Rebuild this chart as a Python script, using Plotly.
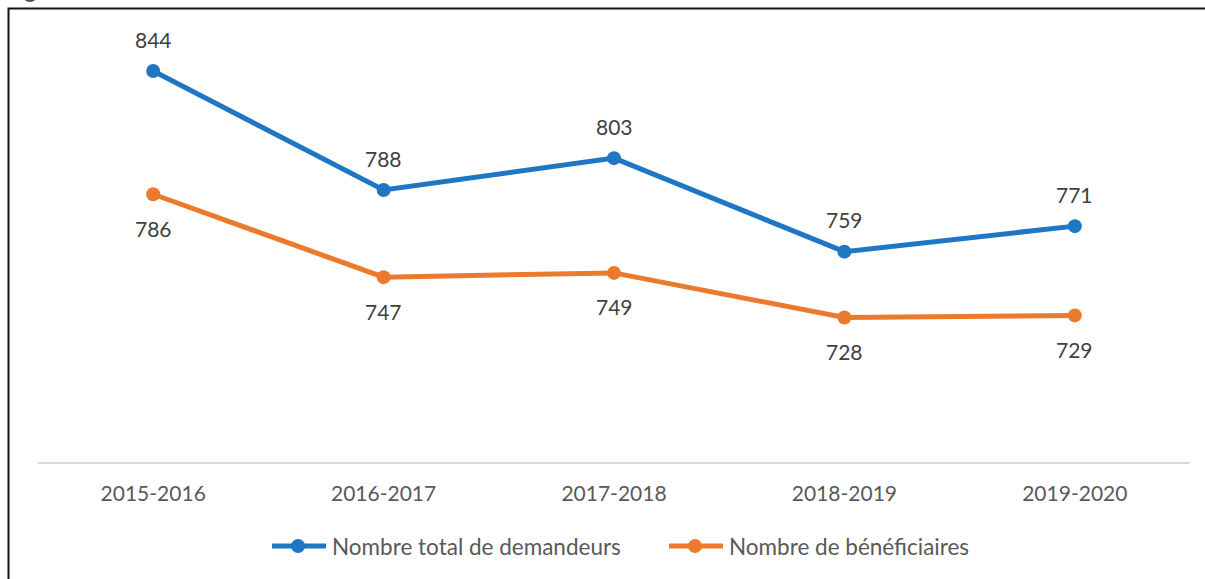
import plotly.graph_objects as go

categories = ["2015-2016", "2016-2017", "2017-2018", "2018-2019", "2019-2020"]
demandeurs = [844, 788, 803, 759, 771]
beneficiaires = [786, 747, 749, 728, 729]
series_names = ["Nombre total de demandeurs", "Nombre de bénéficiaires"]

BLUE = "#1F77C4"
ORANGE = "#EC7A2C"
FONT = "Lato, Carlito, Calibri, sans-serif"

W, H = 1205, 579
L, R, T = 38, 15, 37
B = H - 462
pw, ph = W - L - R, H - T - B

fig = go.Figure()
fig.add_trace(go.Scatter(x=categories, y=demandeurs, mode="lines+markers", name=series_names[0],
                         line=dict(color=BLUE, width=5), marker=dict(size=14, color=BLUE)))
fig.add_trace(go.Scatter(x=categories, y=beneficiaires, mode="lines+markers", name=series_names[1],
                         line=dict(color=ORANGE, width=5), marker=dict(size=14, color=ORANGE)))

annotations = []
for c, v in zip(categories, demandeurs):
    annotations.append(dict(x=c, y=v, text=str(v), showarrow=False, yshift=32,
                            font=dict(family=FONT, size=21, color="#404040")))
for c, v in zip(categories, beneficiaires):
    annotations.append(dict(x=c, y=v, text=str(v), showarrow=False, yshift=-34,
                            font=dict(family=FONT, size=21, color="#404040")))

def px2x(px):
    return (px - L) / pw

def px2y(py):
    return (H - B - py) / ph

shapes = [
    dict(type="rect", xref="paper", yref="paper", x0=px2x(8.5), x1=px2x(1230), y0=px2y(600), y1=px2y(8.5),
         line=dict(color="#111111", width=2), fillcolor="rgba(0,0,0,0)", layer="above"),
    dict(type="circle", xref="paper", yref="paper", x0=px2x(22), x1=px2x(38), y0=px2y(2), y1=px2y(-14),
         line=dict(width=0), fillcolor="#44546A"),
]

# custom legend (Excel-style long symbol)
LEG_Y = 546
legend_items = [(series_names[0], BLUE, 270), (series_names[1], ORANGE, 667)]
for name, color, x0 in legend_items:
    shapes.append(dict(type="line", xref="paper", yref="paper", x0=px2x(x0 + 2), x1=px2x(x0 + 56),
                       y0=px2y(LEG_Y), y1=px2y(LEG_Y), line=dict(color=color, width=5)))
    cx = x0 + 28
    shapes.append(dict(type="circle", xref="paper", yref="paper", x0=px2x(cx - 7), x1=px2x(cx + 7),
                       y0=px2y(LEG_Y + 7), y1=px2y(LEG_Y - 7), line=dict(width=0), fillcolor=color))
    annotations.append(dict(xref="paper", yref="paper", x=px2x(x0 + 60), y=px2y(LEG_Y),
                            xanchor="left", yanchor="middle", text=name, showarrow=False,
                            font=dict(family=FONT, size=22.5, color="#595959")))

fig.update_layout(
    width=W, height=H,
    margin=dict(l=L, r=R, t=T, b=B),
    paper_bgcolor="white", plot_bgcolor="white",
    font=dict(family=FONT, size=21, color="#595959"),
    showlegend=False,
    xaxis=dict(range=[-0.5, 4.5], showgrid=False, zeroline=False, showline=True, linecolor="#D9D9D9",
               linewidth=1.5, ticks="outside", ticklen=12, tickcolor="rgba(0,0,0,0)",
               tickfont=dict(family=FONT, size=21, color="#595959")),
    yaxis=dict(range=[660, 860], visible=False, showgrid=False, zeroline=False),
    annotations=annotations,
    shapes=shapes,
)

fig.write_html("out.html", config={"displayModeBar": False},
               post_script="document.body.style.margin='0';document.body.style.overflow='hidden';")
